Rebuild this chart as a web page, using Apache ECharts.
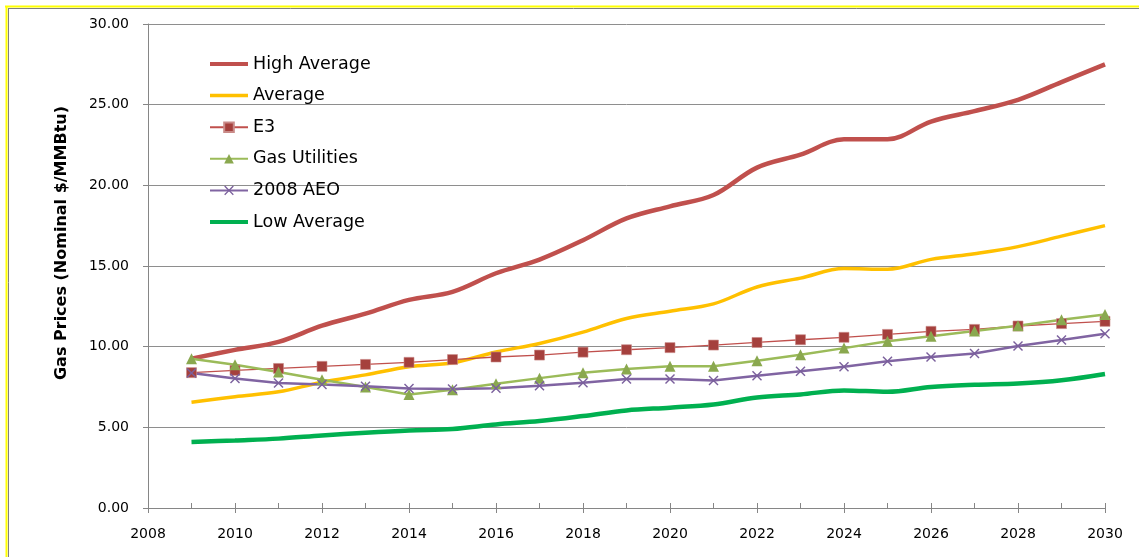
<!DOCTYPE html>
<html>
<head>
<meta charset="utf-8">
<script src="https://cdn.jsdelivr.net/npm/echarts@6/dist/echarts.min.js"></script>
<style>
  html, body { margin: 0; padding: 0; background: #ffffff; }
  #chart { width: 1139px; height: 557px; }
</style>
</head>
<body>
<div id="chart"></div>
<script>
// Natural gas price forecasts, nominal $/MMBtu
var years = [2009, 2010, 2011, 2012, 2013, 2014, 2015, 2016, 2017, 2018, 2019,
             2020, 2021, 2022, 2023, 2024, 2025, 2026, 2027, 2028, 2029, 2030];

var highAverage  = [9.26, 9.80, 10.30, 11.30, 12.05, 12.90, 13.40, 14.55, 15.40, 16.60, 17.95,
                    18.70, 19.40, 21.10, 21.90, 22.85, 22.85, 23.95, 24.60, 25.30, 26.40, 27.50];
var average      = [6.55, 6.90, 7.20, 7.80, 8.25, 8.75, 9.00, 9.67, 10.20, 10.90, 11.75,
                    12.20, 12.65, 13.70, 14.25, 14.84, 14.80, 15.41, 15.76, 16.20, 16.85, 17.50];
var e3           = [8.39, 8.53, 8.65, 8.78, 8.90, 9.03, 9.20, 9.36, 9.48, 9.66, 9.81,
                    9.94, 10.10, 10.26, 10.43, 10.58, 10.76, 10.95, 11.07, 11.28, 11.43, 11.57];
var gasUtilities = [9.25, 8.88, 8.43, 7.95, 7.50, 7.03, 7.33, 7.70, 8.05, 8.39, 8.61,
                    8.78, 8.78, 9.13, 9.50, 9.91, 10.33, 10.64, 10.97, 11.30, 11.67, 12.00];
var aeo2008      = [8.37, 8.02, 7.75, 7.66, 7.54, 7.40, 7.37, 7.43, 7.58, 7.77, 7.99,
                    7.99, 7.91, 8.20, 8.47, 8.76, 9.09, 9.36, 9.58, 10.04, 10.42, 10.80];
var lowAverage   = [4.09, 4.19, 4.30, 4.50, 4.67, 4.81, 4.90, 5.18, 5.39, 5.70, 6.05,
                    6.22, 6.42, 6.85, 7.04, 7.29, 7.20, 7.50, 7.64, 7.72, 7.92, 8.31];

var seriesNames = ['High Average', 'Average', 'E3', 'Gas Utilities', '2008 AEO', 'Low Average'];
var yAxisTitle = 'Gas Prices (Nominal $/MMBtu)';

function pairs(values) {
  return years.map(function (y, i) { return [y, values[i]]; });
}

var FONT = 'DejaVu Sans';
var GRID_COLOR = '#8e8e8e';
var AXIS_COLOR = '#868686';
var X_SHAPE = 'path://M1,0 L5,4 L9,0 L10,1 L6,5 L10,9 L9,10 L5,6 L1,10 L0,9 L4,5 L0,1 Z';
var NO_MARKER = { color: 'rgba(0,0,0,0)', borderWidth: 0 };

var chart = echarts.init(document.getElementById('chart'), null, { renderer: 'canvas' });

chart.setOption({
  animation: false,
  backgroundColor: '#ffffff',
  textStyle: { fontFamily: FONT },
  graphic: [
    // chart-area frame: yellow outer edge with a thin grey rule inside
    { type: 'line', shape: { x1: 5, y1: 6.5, x2: 1139, y2: 6.5 }, style: { stroke: '#ffff00', lineWidth: 2 } },
    { type: 'line', shape: { x1: 6.5, y1: 6, x2: 6.5, y2: 557 }, style: { stroke: '#ffff00', lineWidth: 2 } },
    { type: 'line', shape: { x1: 8, y1: 8.5, x2: 1139, y2: 8.5 }, style: { stroke: '#808080', lineWidth: 1 } },
    { type: 'line', shape: { x1: 8.5, y1: 8, x2: 8.5, y2: 557 }, style: { stroke: '#808080', lineWidth: 1 } }
  ],
  grid: { left: 148, right: 34, top: 24, bottom: 49, containLabel: false },
  legend: {
    orient: 'vertical',
    left: 208,
    top: 54,
    padding: 0,
    itemWidth: 38,
    itemHeight: 12,
    itemGap: 11.6,
    textStyle: { fontFamily: FONT, fontSize: 17.5, color: '#000000', lineHeight: 20 },
    data: [
      { name: seriesNames[0], itemStyle: NO_MARKER, lineStyle: { width: 4 } },
      { name: seriesNames[1], itemStyle: NO_MARKER, lineStyle: { width: 3.5 } },
      { name: seriesNames[2] },
      { name: seriesNames[3] },
      { name: seriesNames[4] },
      { name: seriesNames[5], itemStyle: NO_MARKER, lineStyle: { width: 4 } }
    ]
  },
  xAxis: [
    {
      type: 'value',
      min: 2008,
      max: 2030,
      interval: 2,
      axisLine: { show: true, lineStyle: { color: AXIS_COLOR, width: 1 } },
      axisTick: { show: true, inside: true, length: 5, lineStyle: { color: AXIS_COLOR } },
      minorTick: { show: true, splitNumber: 2, length: 5, lineStyle: { color: AXIS_COLOR } },
      splitLine: { show: false },
      axisLabel: { fontFamily: FONT, fontSize: 14, color: '#000000', margin: 19,
                   formatter: function (v) { return String(v); } }
    },
    {
      // outer half of the crossing major ticks
      type: 'value',
      position: 'bottom',
      min: 2008,
      max: 2030,
      interval: 2,
      axisLine: { show: false },
      axisTick: { show: true, inside: false, length: 5, lineStyle: { color: AXIS_COLOR } },
      splitLine: { show: false },
      axisLabel: { show: false }
    }
  ],
  yAxis: {
    type: 'value',
    min: 0,
    max: 30,
    interval: 5,
    name: yAxisTitle,
    nameLocation: 'middle',
    nameGap: 78,
    nameRotate: 90,
    nameTextStyle: { fontFamily: FONT, fontSize: 16, fontWeight: 'bold', color: '#000000',
                     padding: [0, 0, 0, 46] },
    axisLine: { show: true, lineStyle: { color: AXIS_COLOR, width: 1 } },
    axisTick: { show: true, inside: false, length: 5, lineStyle: { color: AXIS_COLOR } },
    splitLine: { show: true, lineStyle: { color: GRID_COLOR, width: 1 } },
    axisLabel: { fontFamily: FONT, fontSize: 14, color: '#000000', margin: 19,
                 formatter: function (v) { return v.toFixed(2); } }
  },
  series: [
    {
      name: seriesNames[0], type: 'line', data: pairs(highAverage),
      smooth: 0.35, symbol: 'none', z: 2,
      lineStyle: { color: '#c0504d', width: 4.5 }, itemStyle: { color: '#c0504d' }
    },
    {
      name: seriesNames[1], type: 'line', data: pairs(average),
      smooth: 0.35, symbol: 'none', z: 2,
      lineStyle: { color: '#ffc000', width: 3.5 }, itemStyle: { color: '#ffc000' }
    },
    {
      name: seriesNames[2], type: 'line', data: pairs(e3),
      symbol: 'rect', symbolSize: 10, showSymbol: true, z: 3,
      lineStyle: { color: '#c0504d', width: 1.3 },
      itemStyle: { color: '#a5403d', borderColor: '#c98a88', borderWidth: 0.6 }
    },
    {
      name: seriesNames[3], type: 'line', data: pairs(gasUtilities),
      symbol: 'triangle', symbolSize: 11, showSymbol: true, z: 3,
      lineStyle: { color: '#9bbb59', width: 2.5 },
      itemStyle: { color: '#8aa84f' }
    },
    {
      name: seriesNames[4], type: 'line', data: pairs(aeo2008),
      symbol: X_SHAPE, symbolSize: 10, showSymbol: true, z: 3,
      lineStyle: { color: '#8064a2', width: 2.5 },
      itemStyle: { color: '#7a5f9c' }
    },
    {
      name: seriesNames[5], type: 'line', data: pairs(lowAverage),
      smooth: 0.35, symbol: 'none', z: 2,
      lineStyle: { color: '#00b050', width: 4.5 }, itemStyle: { color: '#00b050' }
    }
  ]
});
</script>
</body>
</html>
